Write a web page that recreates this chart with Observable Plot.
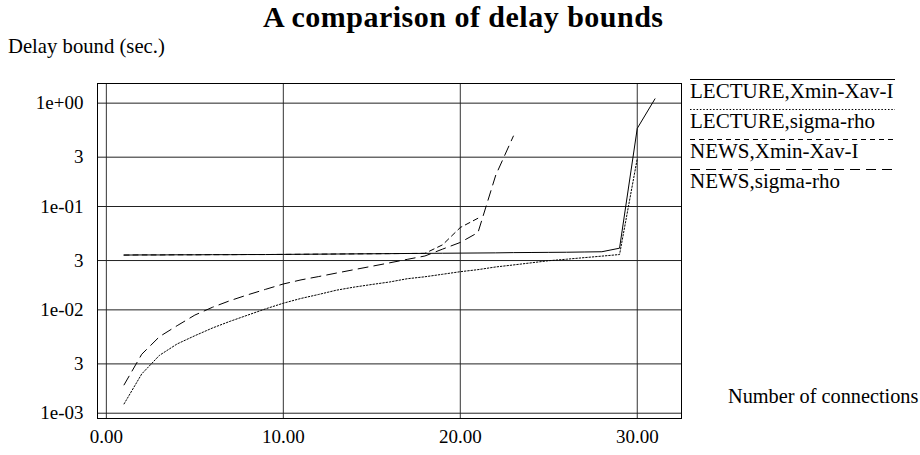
<!DOCTYPE html>
<html>
<head>
<meta charset="utf-8">
<script src="https://cdn.jsdelivr.net/npm/d3@7"></script>
<script src="https://cdn.jsdelivr.net/npm/@observablehq/plot@0.6"></script>
<style>
  body { margin: 0; background: #fff; }
  #chart { position: relative; width: 920px; height: 455px; font-family: "Liberation Serif", "Times New Roman", serif; }
  #chart svg.overlay { position: absolute; left: 0; top: 0; pointer-events: none; }
</style>
</head>
<body>
<div id="chart"></div>
<script>
// Number of connections (x) shared by every series
const connections = [1, 2, 3, 4, 5, 6, 7, 8, 9, 10, 11, 12, 13, 14, 15, 16,
  17, 18, 19, 20, 21, 22, 23, 24, 25, 26, 27, 28, 29, 30, 31];

// Delay bounds in seconds, one value per connection count
const lectureXmin = [0.0339, 0.0340, 0.0340, 0.0341, 0.0341, 0.0342, 0.0342, 0.0343,
  0.0343, 0.0344, 0.0345, 0.0346, 0.0347, 0.0348, 0.0349, 0.0350, 0.0351, 0.0352,
  0.0353, 0.0354, 0.0355, 0.0356, 0.0358, 0.0359, 0.0360, 0.0361, 0.0363, 0.0365,
  0.0395, 0.57, 1.10];
const lectureSigma = [0.00123, 0.0024, 0.00363, 0.00468, 0.00562, 0.00668, 0.00776,
  0.00891, 0.01023, 0.0116, 0.0129, 0.0141, 0.0155, 0.0166, 0.0176, 0.0186, 0.0200,
  0.0209, 0.0221, 0.0234, 0.0245, 0.0260, 0.0272, 0.0285, 0.0299, 0.0309, 0.0320,
  0.0331, 0.0343, 0.29];
const newsXmin = [0.0339, 0.0340, 0.0340, 0.0341, 0.0341, 0.0342, 0.0342, 0.0343,
  0.0343, 0.0344, 0.0345, 0.0346, 0.0347, 0.0348, 0.0349, 0.0350, 0.0351, 0.0352,
  0.0426, 0.0626, 0.077];
const newsSigma = [0.00188, 0.00372, 0.0055, 0.00703, 0.0089, 0.0106, 0.0123, 0.0140,
  0.0158, 0.0178, 0.0195, 0.0210, 0.0227, 0.0245, 0.0264, 0.0285, 0.0308, 0.0332,
  0.0387, 0.0449, 0.056, 0.20, 0.48];

const seriesNames = ["LECTURE,Xmin-Xav-I", "LECTURE,sigma-rho", "NEWS,Xmin-Xav-I", "NEWS,sigma-rho"];
const seriesValues = [lectureXmin, lectureSigma, newsXmin, newsSigma];
const seriesDash = [null, "1.5,1.8", "5,4", "10,6"];

const xTicks = [0, 10, 20, 30];
const yTicks = [1, 0.3, 0.1, 0.03, 0.01, 0.003, 0.001];
const yTickLabels = ["1e+00", "3", "1e-01", "3", "1e-02", "3", "1e-03"];

const titleText = "A comparison of delay bounds";
const yLabelText = "Delay bound (sec.)";
const xLabelText = "Number of connections";

const yLabelOf = new Map(yTicks.map((t, i) => [t, yTickLabels[i]]));
const rowsOf = values => values.map((v, i) => ({connections: connections[i], delay: v}));

const plot = Plot.plot({
  width: 920,
  height: 455,
  marginLeft: 97,
  marginRight: 239,
  marginTop: 83,
  marginBottom: 37,
  style: {fontFamily: "'Liberation Serif', serif", fontSize: "19px", color: "black", background: "white", overflow: "visible"},
  x: {domain: [-0.5, 32.5]},
  y: {type: "log", domain: [0.000889, 1.549]},
  marks: [
    Plot.gridX(xTicks, {stroke: "#333", strokeOpacity: 1}),
    Plot.gridY(yTicks, {stroke: "#222", strokeOpacity: 1}),
    Plot.frame({stroke: "black"}),
    Plot.axisX(xTicks, {tickSize: 0, tickPadding: 11, tickFormat: d3.format(".2f"), label: null}),
    Plot.axisY(yTicks, {tickSize: 0, tickPadding: 14, tickFormat: d => yLabelOf.get(d), label: null}),
    ...seriesValues.map((values, i) => Plot.line(rowsOf(values), {
      x: "connections",
      y: "delay",
      stroke: "black",
      strokeWidth: 1,
      strokeDasharray: seriesDash[i]
    }))
  ]
});

const chart = document.getElementById("chart");
chart.appendChild(plot);

// Title, axis captions and the line-style legend on top of the plot
const overlay = d3.select(chart).append("svg")
  .attr("class", "overlay")
  .attr("width", 920)
  .attr("height", 455)
  .style("font-family", "'Liberation Serif', 'Times New Roman', serif");

overlay.append("text")
  .attr("x", 463).attr("y", 27)
  .attr("text-anchor", "middle")
  .attr("font-size", 30).attr("font-weight", "bold")
  .attr("textLength", 400)
  .text(titleText);

overlay.append("text")
  .attr("x", 8).attr("y", 53)
  .attr("font-size", 20.7)
  .text(yLabelText);

overlay.append("text")
  .attr("x", 728).attr("y", 403)
  .attr("font-size", 20.3)
  .text(xLabelText);

const legend = overlay.append("g");
seriesNames.forEach((name, i) => {
  const row = legend.append("g").attr("transform", `translate(0,${i * 30})`);
  row.append("line")
    .attr("x1", 690).attr("x2", 895)
    .attr("y1", 79.5).attr("y2", 79.5)
    .attr("stroke", "black").attr("stroke-width", 1)
    .attr("stroke-dasharray", seriesDash[i]);
  row.append("text")
    .attr("x", 690).attr("y", 98)
    .attr("font-size", 21)
    .text(name);
});
</script>
</body>
</html>
